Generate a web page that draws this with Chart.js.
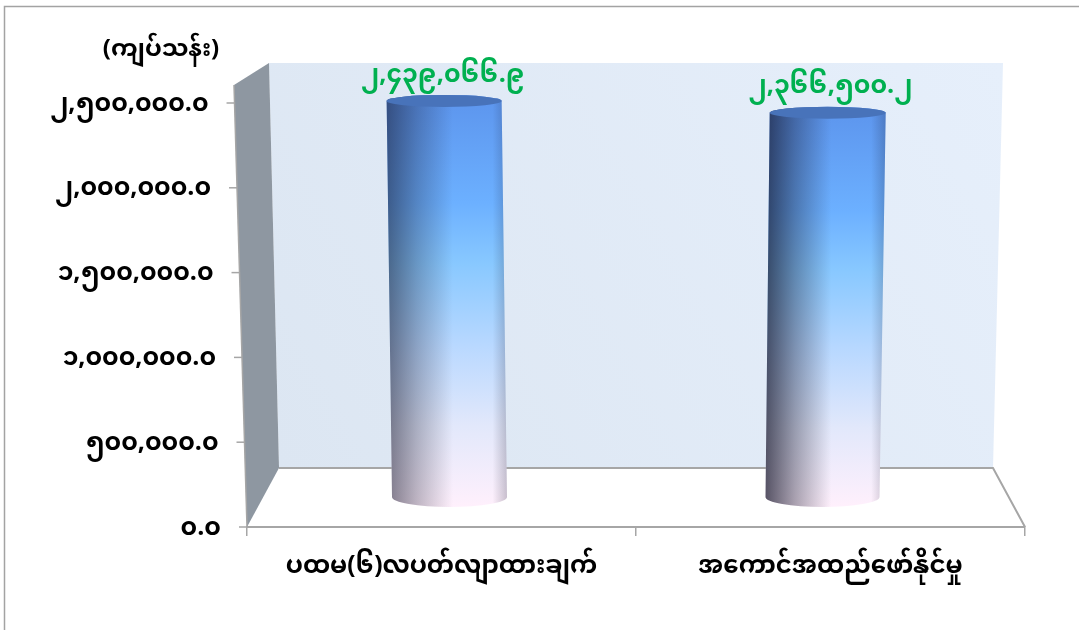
<!DOCTYPE html>
<html><head><meta charset="utf-8">
<style>html,body{margin:0;padding:0;background:#fff}canvas{display:block}</style>
<script src="https://cdn.jsdelivr.net/npm/chart.js@4"></script>
</head><body><canvas id="c" width="1079" height="630"></canvas>
<script>
const categories = ["ပထမ(၆)လပတ်လျာထားချက်", "အကောင်အထည်ဖော်နိုင်မှု"];
const seriesValues = [2439066.9, 2366500.2];
const valueLabels = ["၂,၄၃၉,၀၆၆.၉", "၂,၃၆၆,၅၀၀.၂"];
const yTickLabels = ["၀.၀", "၅၀၀,၀၀၀.၀", "၁,၀၀၀,၀၀၀.၀", "၁,၅၀၀,၀၀၀.၀", "၂,၀၀၀,၀၀၀.၀", "၂,၅၀၀,၀၀၀.၀"];
const unitTitle = "(ကျပ်သန်း)";

const FONT = '"Noto Sans Myanmar","Padauk","Myanmar Text","Noto Sans","DejaVu Sans",sans-serif';
const AREA = {l:247, r:1025, t:103, b:527};

const scene = {
  id:'scene',
  beforeDatasetsDraw(chart){
    const c = chart.ctx;
    c.save();
    c.strokeStyle='#a3a3a3'; c.lineWidth=1.5;
    c.strokeRect(4.5,6.5,1090,640);
    const wall=c.createLinearGradient(279,468,1003,63);
    wall.addColorStop(0,'#dce6f2'); wall.addColorStop(1,'#e6effb');
    c.fillStyle=wall;
    c.beginPath();c.moveTo(279,468);c.lineTo(993,468);c.lineTo(1003,63);c.lineTo(269,63);c.closePath();c.fill();
    c.fillStyle='#8e97a1';
    c.beginPath();c.moveTo(247,527);c.lineTo(279,468);c.lineTo(269,63);c.lineTo(234,85);c.closePath();c.fill();
    c.strokeStyle='#a6a6a6'; c.lineWidth=2;
    c.beginPath();c.moveTo(279,468);c.lineTo(993,468);c.lineTo(1025,527);c.stroke();
    c.restore();
  },
  afterDatasetsDraw(chart){
    const c = chart.ctx, ys = chart.scales.y;
    chart.getDatasetMeta(0).data.forEach((el,i)=>{
      const v=(AREA.b-el.y)/(AREA.b-AREA.t), u=(el.x-AREA.l)/(AREA.r-AREA.l);
      const floorL=263, floorR=1009, topL=252, topR=1020;
      const bx=floorL+(floorR-floorL)*u, tx=bx+((topL+(topR-topL)*u)-bx)*v;
      const by=497, ty=by-406/424*(AREA.b-el.y);
      const w=i===0?57.5:58, bw=i===0?57.5:57;
      c.save();
      c.beginPath();
      c.moveTo(tx-w,ty);c.ellipse(tx,ty,w,6,0,Math.PI,0,false);
      c.lineTo(bx+bw,by);c.ellipse(bx,by,bw,10,0,0,Math.PI,false);c.closePath();
      c.clip();
      const g=c.createLinearGradient(0,ty,0,by+10);
      g.addColorStop(0,'#5d96ee');g.addColorStop(.25,'#6cb0ff');g.addColorStop(.4,'#88c8ff');
      g.addColorStop(.6,'#b8d8ff');g.addColorStop(.8,'#e2e8fb');g.addColorStop(1,'#fff0fc');
      c.fillStyle=g;c.fillRect(tx-80,ty-10,160,by-ty+30);
      const d=c.createLinearGradient(Math.min(tx,bx)-w,0,Math.max(tx,bx)+w,0);
      const a=i===0?0.55:0.72;
      d.addColorStop(0,`rgba(20,20,40,${a})`);d.addColorStop(.25,`rgba(20,20,40,${a*.5})`);
      d.addColorStop(.55,'rgba(20,20,40,0)');d.addColorStop(.88,'rgba(20,20,40,0)');d.addColorStop(1,'rgba(20,20,40,.22)');
      c.fillStyle=d;c.fillRect(tx-80,ty-10,160,by-ty+30);
      c.restore();
      c.save();
      c.fillStyle='#4873ba';
      c.beginPath();c.ellipse(tx,ty,w,6,0,0,Math.PI*2);c.fill();
      c.fillStyle='#00b050';c.font='bold 25px '+FONT;c.textAlign='center';c.textBaseline='middle';
      c.fillText(valueLabels[i],el.x+(i===0?1.5:0),ty-22);
      c.restore();
    });
    c.save();
    c.fillStyle='#000';c.font='bold 25px '+FONT;c.textBaseline='middle';c.textAlign='right';
    c.strokeStyle='#a6a6a6';c.lineWidth=1.5;
    c.beginPath();c.moveTo(247,527);c.lineTo(234,85);c.stroke();
    ys.ticks.forEach((t,i)=>{
      const y=ys.getPixelForTick(i), x=247-(527-y)*13/442;
      c.beginPath();c.moveTo(x-8,y);c.lineTo(x,y);c.stroke();
      c.fillText(t.label,x-26,y+5);
    });
    c.font='bold 24px '+FONT;c.textAlign='center';
    c.fillText(unitTitle,161,53);
    c.restore();
  }
};

new Chart(document.getElementById('c'),{
  type:'bar',
  data:{labels:categories,datasets:[{data:seriesValues,backgroundColor:'rgba(0,0,0,0)',borderWidth:0}]},
  plugins:[scene],
  options:{
    responsive:false,animation:false,
    layout:{padding:{top:AREA.t,right:1079-AREA.r,left:0,bottom:0}},
    plugins:{legend:{display:false},tooltip:{enabled:false}},
    scales:{
      x:{
        afterFit(s){s.height=630-AREA.b;},
        border:{color:'#a6a6a6',width:2},
        grid:{drawOnChartArea:false,drawTicks:true,tickLength:9,color:'#a6a6a6',lineWidth:1.5},
        ticks:{color:'#000',font:{family:FONT,size:24.5,weight:'bold'},padding:20,maxRotation:0}
      },
      y:{
        min:0,max:2500000,
        afterFit(s){s.width=AREA.l;},
        afterTickToLabelConversion(s){s.ticks.forEach((t,i)=>{t.label=yTickLabels[i];});},
        border:{display:false},
        grid:{display:false},
        ticks:{display:false,stepSize:500000}
      }
    }
  }
});
</script></body></html>
